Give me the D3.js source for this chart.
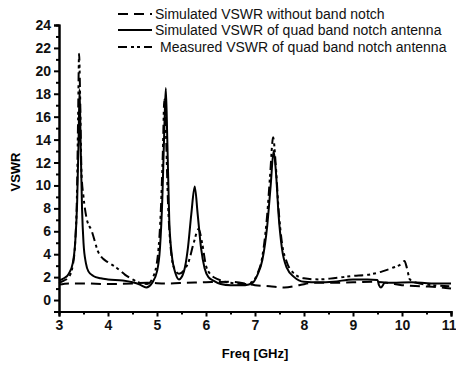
<!DOCTYPE html>
<html>
<head>
<meta charset="utf-8">
<script src="https://cdn.jsdelivr.net/npm/d3@7"></script>
<style>
  body { margin: 0; background: #fff; }
  svg { font-family: "Liberation Sans", Arial, sans-serif; }
</style>
</head>
<body>
<div id="chart"></div>
<script>
// 数据：频率 (GHz) 与 VSWR
const noNotchFreq = [3.0, 3.2, 3.5, 4.0, 4.5, 4.8, 5.2, 5.6, 6.0, 6.5, 7.0, 7.3, 7.6, 7.9, 8.2, 8.6, 9.0, 9.4, 9.7, 10.0, 10.4, 10.8, 11.0];
const noNotchVswr = [1.35, 1.45, 1.45, 1.4, 1.45, 1.5, 1.45, 1.5, 1.55, 1.6, 1.3, 1.2, 1.1, 1.3, 1.5, 1.5, 1.55, 1.6, 1.5, 1.3, 1.2, 1.1, 1.0];

const simFreq = [3.00, 3.10, 3.20, 3.28, 3.33, 3.37, 3.40, 3.42, 3.44, 3.47, 3.50, 3.55, 3.60, 3.70, 3.85, 4.00, 4.30, 4.50, 4.65, 4.78, 4.90, 5.00, 5.06, 5.11, 5.15, 5.18, 5.21, 5.25, 5.30, 5.38, 5.45, 5.55, 5.63, 5.70, 5.77, 5.83, 5.90, 5.97, 6.05, 6.15, 6.30, 6.50, 6.80, 6.95, 7.05, 7.15, 7.25, 7.32, 7.38, 7.43, 7.48, 7.55, 7.65, 7.80, 8.00, 8.30, 8.60, 9.00, 9.30, 9.50, 9.53, 9.57, 9.65, 9.80, 10.2, 10.6, 11.0];
const simVswr = [1.7, 1.9, 2.3, 3.2, 5.0, 8.5, 14, 18.4, 14, 8, 5, 3.2, 2.5, 2.1, 1.9, 1.8, 1.7, 1.55, 1.35, 1.1, 1.5, 2.5, 4.5, 9, 15, 18.5, 14, 7, 4, 2.3, 1.8, 2.5, 4.5, 7.5, 9.9, 7.5, 4.5, 2.8, 2.0, 1.7, 1.4, 1.3, 1.3, 1.5, 2.2, 3.5, 6.5, 10, 13, 11, 7.5, 4.5, 2.8, 2.0, 1.6, 1.55, 1.6, 1.8, 1.8, 1.75, 1.3, 1.1, 1.5, 1.5, 1.55, 1.45, 1.45];

const measFreq = [3.00, 3.10, 3.20, 3.28, 3.33, 3.37, 3.39, 3.41, 3.43, 3.46, 3.50, 3.56, 3.67, 3.80, 3.90, 4.00, 4.18, 4.35, 4.50, 4.65, 4.80, 4.92, 5.02, 5.08, 5.12, 5.15, 5.18, 5.22, 5.28, 5.35, 5.45, 5.55, 5.65, 5.75, 5.85, 5.92, 6.00, 6.10, 6.25, 6.50, 6.80, 6.95, 7.05, 7.15, 7.25, 7.31, 7.37, 7.42, 7.48, 7.55, 7.65, 7.80, 8.00, 8.30, 8.60, 9.00, 9.30, 9.60, 9.80, 10.00, 10.05, 10.10, 10.16, 10.30, 10.60, 11.0];
const measVswr = [1.5, 1.7, 2.0, 3.0, 5, 10, 16, 21.5, 18, 11, 9, 7.2, 6, 4.2, 3.6, 3.3, 2.8, 2.2, 1.8, 1.5, 1.4, 2.0, 4, 8, 13, 17.5, 15, 9, 4.5, 2.8, 2.3, 2.6, 3.4, 5, 6.2, 5, 3.0, 2.2, 1.8, 1.5, 1.4, 1.6, 2.3, 3.8, 7.5, 11, 14.2, 12, 8, 5, 3.3, 2.3, 1.9, 1.8, 1.9, 2.1, 2.2, 2.5, 2.8, 3.2, 3.4, 2.8, 1.8, 1.5, 1.3, 1.2];

const xTicks = [3, 4, 5, 6, 7, 8, 9, 10, 11];
const yTicks = [0, 2, 4, 6, 8, 10, 12, 14, 16, 18, 20, 22, 24];
const legendLabels = [
    "Simulated VSWR without band notch",
    "Simulated VSWR of quad band notch antenna",
    "Measured VSWR of quad band notch antenna"
];

const width = 456, height = 367;

const svg = d3.select("#chart")
    .append("svg")
    .attr("width", width)
    .attr("height", height);

const x = d3.scaleLinear().domain([3, 11]).range([59, 451]);
const y = d3.scaleLinear().domain([-1, 24]).range([311.5, 25]);

// 坐标轴
const xAxis = d3.axisBottom(x).tickValues(xTicks).tickSize(5).tickPadding(4).tickFormat(d3.format("d"));
const xMinor = d3.axisBottom(x).tickValues(d3.range(3.5, 11, 1)).tickSize(3).tickFormat("");
const yAxis = d3.axisLeft(y).tickValues(yTicks).tickSize(5).tickPadding(3).tickFormat(d3.format("d"));
const yMinor = d3.axisLeft(y).tickValues(d3.range(-1, 24, 2)).tickSize(3).tickFormat("");

function styleAxis(g) {
    g.select(".domain").attr("stroke", "#000").attr("stroke-width", 2);
    g.selectAll(".tick line").attr("stroke", "#000").attr("stroke-width", 2);
    g.selectAll(".tick text")
        .attr("fill", "#111")
        .style("font-size", "14px")
        .style("font-weight", "bold");
}

svg.append("g").attr("transform", "translate(0,311.5)").call(xMinor).call(styleAxis);
const gx = svg.append("g").attr("transform", "translate(0,311.5)").call(xAxis).call(styleAxis);
// 最右侧的 "11" 贴边，改为右对齐避免被裁掉
gx.selectAll(".tick text").filter(d => d === 11)
    .attr("text-anchor", "end")
    .attr("x", 5);
svg.append("g").attr("transform", "translate(59,0)").call(yMinor).call(styleAxis);
svg.append("g").attr("transform", "translate(59,0)").call(yAxis).call(styleAxis);

// 轴标题
svg.append("text")
    .attr("x", 255).attr("y", 358)
    .attr("text-anchor", "middle")
    .style("font-size", "13px")
    .style("font-weight", "bold")
    .text("Freq [GHz]");

svg.append("text")
    .attr("transform", "translate(20,172) rotate(-90)")
    .attr("text-anchor", "middle")
    .style("font-size", "13px")
    .style("font-weight", "bold")
    .text("VSWR");

// 曲线
const series = [
    { f: noNotchFreq, v: noNotchVswr, dash: "10,6" },
    { f: simFreq, v: simVswr, dash: null },
    { f: measFreq, v: measVswr, dash: "9,4,3,3,3,4" }
];

const line = d3.line()
    .x(d => x(d[0]))
    .y(d => y(d[1]))
    .curve(d3.curveMonotoneX);

series.forEach(s => {
    svg.append("path")
        .datum(s.f.map((f, i) => [f, s.v[i]]))
        .attr("fill", "none")
        .attr("stroke", "#000")
        .attr("stroke-width", 2)
        .attr("stroke-dasharray", s.dash)
        .attr("d", line);
});

// 图例
const legend = svg.append("g");
const rowY = [14, 30, 47];
legendLabels.forEach((label, i) => {
    legend.append("line")
        .attr("x1", 118).attr("x2", 152)
        .attr("y1", rowY[i]).attr("y2", rowY[i])
        .attr("stroke", "#000")
        .attr("stroke-width", 2)
        .attr("stroke-dasharray", series[i].dash);
    legend.append("text")
        .attr("x", i === 2 ? 160 : 155)
        .attr("y", rowY[i] + 5)
        .style("font-size", "14px")
        .attr("fill", "#111")
        .text(label);
});
</script>
</body>
</html>
